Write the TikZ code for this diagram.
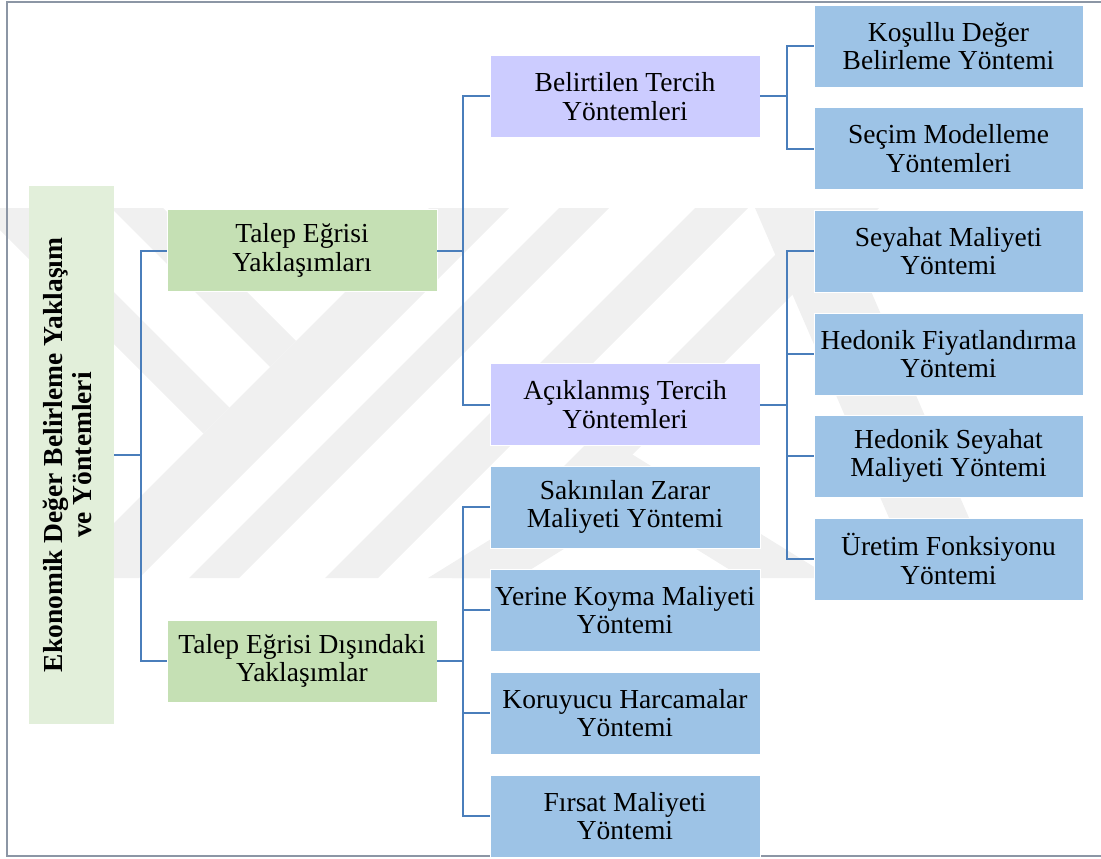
\documentclass[tikz,border=0pt]{standalone}
\usepackage{fontspec}
\usepackage{graphicx}
\setmainfont{Liberation Serif}

\definecolor{rootfill}{RGB}{226,239,218}
\definecolor{greenfill}{RGB}{197,224,180}
\definecolor{violetfill}{RGB}{204,204,255}
\definecolor{bluefill}{RGB}{157,195,230}
\definecolor{linkblue}{RGB}{74,126,187}
\definecolor{framegray}{RGB}{140,150,165}
\definecolor{markgray}{RGB}{240,240,240}

\begin{document}
\begin{tikzpicture}[x=1pt,y=-1pt,
  box/.style={rectangle, draw=white, line width=0.6pt, inner sep=1pt,
    minimum width=270pt, minimum height=82pt, align=center,
    font=\fontsize{27.5}{28.5}\selectfont, text=black},
  greenbox/.style={box, fill=greenfill},
  violetbox/.style={box, fill=violetfill},
  bluebox/.style={box, fill=bluefill},
  rootbox/.style={rectangle, fill=rootfill, inner sep=0pt,
    minimum width=85pt, minimum height=538pt},
  link/.style={draw=linkblue, line width=2pt},
  frameline/.style={draw=framegray, line width=1.2pt},
  emblem/.style={fill=markgray, draw=none}]

\useasboundingbox (0,0) rectangle (1101,859);

% faint background emblem: slanted bands
\begin{scope}
  \clip (0,208) rectangle (1000,578);
  % short arms ending on the first long band
  \fill[emblem] (-22,208) -- (30,208) -- (229.5,407.5) -- (203.5,433.5) -- cycle;
  \fill[emblem] (111,208) -- (163,208) -- (296,341) -- (270,367) -- cycle;
  % long rising bands
  \fill[emblem] (429,208) -- (509,208) -- (139,578) -- (59,578) -- cycle;
  \fill[emblem] (559,208) -- (609,208) -- (239,578) -- (189,578) -- cycle;
  \fill[emblem] (695,208) -- (748,208) -- (378,578) -- (325,578) -- cycle;
  \fill[emblem] (822,208) -- (879,208) -- (509,578) -- (452,578) -- cycle;
  % chevron and falling band on the right
  \fill[emblem] (428,578) -- (630,453) -- (832,578) -- (743,578) -- (630,508) -- (517,578) -- cycle;
  \fill[emblem] (755,208) -- (835,208) -- (995,578) -- (915,578) -- cycle;
\end{scope}

% outer frame
\draw[frameline] (1101,2) -- (7,2) -- (7,856) -- (1101,856);

% root
\node[rootbox] (root) at (71.5,455) {\rotatebox{90}{\fontsize{27.5}{29}\selectfont\bfseries
  \begin{tabular}{@{}c@{}}Ekonomik Değer Belirleme Yaklaşım\\ ve Yöntemleri\end{tabular}}};

% second level
\node[greenbox] (tey) at (302,250.5) {Talep Eğrisi\\Yaklaşımları};
\node[greenbox] (ted) at (302,661) {Talep Eğrisi Dışındaki\\Yaklaşımlar};

% third level
\node[violetbox] (bt) at (625,96.5) {Belirtilen Tercih\\Yöntemleri};
\node[violetbox] (at) at (625,404.5) {Açıklanmış Tercih\\Yöntemleri};
\node[bluebox] (sz) at (625,507) {Sakınılan Zarar\\Maliyeti Yöntemi};
\node[bluebox] (yk) at (625,610) {Yerine Koyma Maliyeti\\Yöntemi};
\node[bluebox] (kh) at (625,713) {Koruyucu Harcamalar\\Yöntemi};
\node[bluebox] (fm) at (625,816) {Fırsat Maliyeti\\Yöntemi};

% fourth level
\node[bluebox, minimum width=269pt] (kd) at (948.5,46) {Koşullu Değer\\Belirleme Yöntemi};
\node[bluebox, minimum width=269pt] (sm) at (948.5,148.5) {Seçim Modelleme\\Yöntemleri};
\node[bluebox, minimum width=269pt] (sy) at (948.5,251) {Seyahat Maliyeti\\Yöntemi};
\node[bluebox, minimum width=269pt] (hf) at (948.5,354) {Hedonik Fiyatlandırma\\Yöntemi};
\node[bluebox, minimum width=269pt] (hs) at (948.5,456) {Hedonik Seyahat\\Maliyeti Yöntemi};
\node[bluebox, minimum width=269pt] (ur) at (948.5,559) {Üretim Fonksiyonu\\Yöntemi};

% connectors
\foreach \c in {tey,ted} \draw[link] (root.east) -- ++(27,0) |- (\c.west);
\foreach \c in {bt,at} \draw[link] (tey.east) -- ++(26,0) |- (\c.west);
\foreach \c in {sz,yk,kh,fm} \draw[link] (ted.east) -- ++(26,0) |- (\c.west);
\foreach \c in {kd,sm} \draw[link] (bt.east) -- ++(27,0) |- (\c.west);
\foreach \c in {sy,hf,hs,ur} \draw[link] (at.east) -- ++(27,0) |- (\c.west);
\end{tikzpicture}
\end{document}
